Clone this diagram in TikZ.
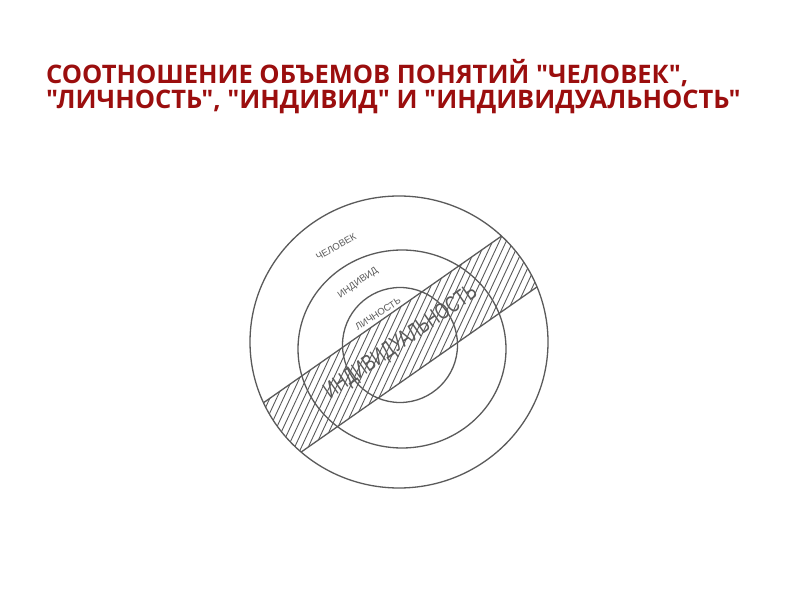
\documentclass[tikz,border=0pt]{standalone}
\usepackage{fontspec}
\setmainfont{Open Sans}[Ligatures=TeXOff]
\newfontfamily\labfont{Liberation Sans}
\definecolor{titlered}{RGB}{155,14,14}
\definecolor{ink}{RGB}{90,90,90}
\begin{document}
\begin{tikzpicture}[x=1pt,y=1pt,
  ring/.style={draw=ink,line width=1.3pt},
  hatch/.style={draw=ink,line width=0.9pt},
  small/.style={font=\labfont\fontsize{9.5}{10}\selectfont,text=ink,inner sep=0pt},
  big/.style={font=\labfont\fontsize{23}{24}\selectfont,text=ink,inner sep=0pt},
  title/.style={font=\bfseries\fontsize{25.5}{26}\selectfont,text=titlered,anchor=north west,align=left,inner sep=0pt}]
\useasboundingbox[fill=white] (0,0) rectangle (800,600);
\node[title] (t) at (46,541) {СООТНОШЕНИЕ ОБЪЕМОВ ПОНЯТИЙ "ЧЕЛОВЕК",\\[-1pt]"ЛИЧНОСТЬ", "ИНДИВИД" И "ИНДИВИДУАЛЬНОСТЬ"};
% hatched band
\begin{scope}
  \clip (399,258) ellipse [x radius=149, y radius=146];
  \clip[rotate around={35:(400,255)}] (200,224) rectangle (600,286);
  \foreach \x in {100,106.8,...,570} \draw[hatch] (\x,100) -- ++(65:320);
\end{scope}
\begin{scope}
  \clip (399,258) ellipse [x radius=149, y radius=146];
  \draw[ring,rotate around={35:(400,255)}] (200,224) -- (600,224) (200,286) -- (600,286);
\end{scope}
\draw[ring] (399,258) ellipse [x radius=149, y radius=146];
\draw[ring] (402,251) ellipse [x radius=104, y radius=99];
\draw[ring] (400,255) circle [radius=57.5];
\node[small,rotate=30] (chel) at (336,353) {ЧЕЛОВЕК};
\node[small,rotate=35] (ind) at (358,317) {ИНДИВИД};
\node[small,rotate=33] (lich) at (378,286) {ЛИЧНОСТЬ};
\node[big,rotate=35,xscale=0.72] (indiv) at (401,257) {ИНДИВИДУАЛЬНОСТЬ};
\end{tikzpicture}
\end{document}
